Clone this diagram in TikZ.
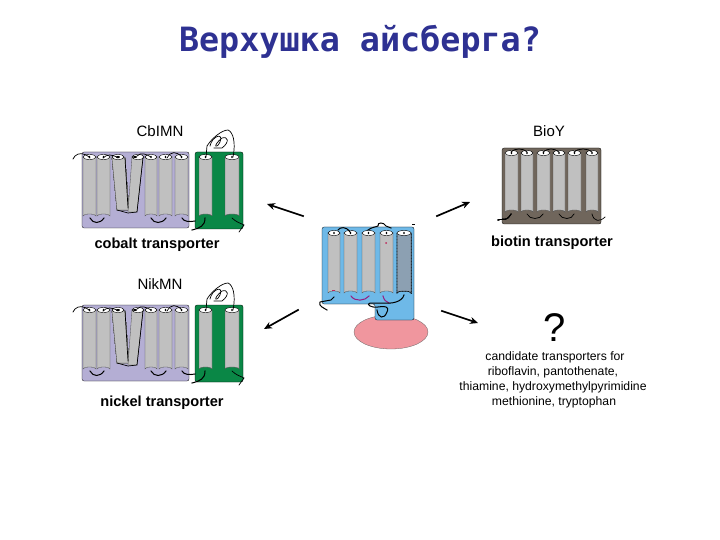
\documentclass[tikz,border=0pt]{standalone}
\usepackage{fontspec}
\setmainfont{Liberation Sans}
\newfontfamily\titlefont{DejaVu Sans Mono}
\definecolor{custcol_title}{RGB}{46, 49, 146}
\definecolor{custcol_purple}{RGB}{180, 174, 212}
\definecolor{custcol_green}{RGB}{10, 135, 70}
\definecolor{custcol_brown}{RGB}{112, 102, 92}
\definecolor{custcol_blue}{RGB}{110, 185, 232}
\definecolor{custcol_pink}{RGB}{240, 150, 158}
\definecolor{custcol_tube}{RGB}{192, 192, 192}
\definecolor{custcol_dark}{RGB}{140, 160, 178}
\definecolor{custcol_loop}{RGB}{150, 30, 130}
\definecolor{custcol_mark}{RGB}{190, 40, 90}
\usetikzlibrary{arrows.meta}
\tikzset{
	membrane/.style={rounded corners=2pt, draw=black, line width=0.3pt},
	wire/.style={line width=0.7pt, black},
	thickwire/.style={line width=1.0pt, black},
	bigarrow/.style={line width=1.7pt, black, -{Stealth[length=8pt,width=7pt]}},
	caption/.style={inner sep=0, outer sep=0, font=\fontsize{14.6pt}{14.6pt}\bfseries\selectfont},
	protein/.style={inner sep=0, outer sep=0, font=\fontsize{15pt}{15pt}\selectfont},
	smalltext/.style={inner sep=0, outer sep=0, font=\fontsize{12.2pt}{12.2pt}\selectfont},
}
% one helix: x left, x right, y top, y bottom
\newcommand{\helix}[5][custcol_tube]{
	\fill [#1, draw=black!70, line width=0.3pt] (#2,#4) -- (#2,#5-2) arc (180:360:{(#3-#2)/2} and 2) -- (#3,#4) -- cycle;
	\fill [white, draw=black, line width=0.4pt] ({(#2+#3)/2},#4) ellipse ({(#3-#2)/2} and 2.5);
	\fill [black] ({(#2+#3)/2},#4) ellipse (0.9 and 1.3);
}
% the ecf transporter, drawn for both cobalt and nickel
\newcommand{\ecfbox}[1]{
	\begin{scope}[yshift=#1]
		\draw [membrane, fill=custcol_purple] (82,152) rectangle (189,228);
		\draw [membrane, fill=custcol_green] (195,152) rectangle (243,229);
		\foreach \xa/\xb in {83/96, 97/110, 145/157, 159/172, 175/188, 199/212, 225/239}
			\helix{\xa}{\xb}{157}{218}
		% slanted pair in the middle
		\fill [custcol_tube, draw=black!70, line width=0.3pt] (112,158) -- (125,158) -- (129,210) -- (117,210) -- cycle;
		\fill [custcol_tube, draw=black!70, line width=0.3pt] (132,157) -- (143,157) -- (137,212) -- (128,212) -- cycle;
		\fill [white, draw=black, line width=0.4pt] (118,157) ellipse (6 and 2.5);
		\fill [white, draw=black, line width=0.4pt] (138,157) ellipse (6 and 2.5);
		\fill [black] (118,157) ellipse (2 and 1);
		\fill [black] (135,157) ellipse (2 and 1);
		\draw [thickwire] (90,218) .. controls (93,224) and (100,224) .. (104,218);
		\draw [thickwire] (151,218) .. controls (154,224) and (162,224) .. (166,218);
		\draw [thickwire] (182,218) .. controls (184,222) and (190,222) .. (195,221);
		\draw [wire] (117,210) -- (128,213) -- (137,212) -- (143,158);
		\draw [wire] (125,158) -- (128,208);
		\draw [wire] (73,159) -- (75,156) .. controls (78,153) and (84,152) .. (90,158);
		\draw [wire] (103,158) .. controls (107,154) and (112,154) .. (118,158);
		\draw [wire] (137,156) .. controls (141,152) and (146,154) .. (151,157);
		\draw [wire] (167,158) .. controls (171,151) and (176,151) .. (182,157);
		\draw [wire] (206,157) -- (207,146) .. controls (212,138) and (222,130) .. (228,130) .. controls (233,132) and (236,142) .. (233,157);
		\draw [wire] (210,146) .. controls (212,136) and (224,132) .. (220,142) .. controls (216,150) and (212,146) .. (222,138) .. controls (228,136) and (230,142) .. (222,148) -- (214,148);
		\draw [thickwire] (205,218) .. controls (205,226) and (200,228) .. (192,230);
		\draw [wire] (232,218) .. controls (236,222) and (240,223) .. (244,225) -- (239,232);
	\end{scope}
}
\begin{document}
\begin{tikzpicture}[x=1pt,y=-1pt,line cap=rect]
	\useasboundingbox (0,0) rectangle (720,540);
	\node[inner sep=0, outer sep=0, custcol_title, font=\titlefont\fontsize{33.4pt}{33.4pt}\bfseries\selectfont] (title) at (360,42) {Верхушка айсберга?};
	% left transporters
	\ecfbox{0pt}
	\ecfbox{-153pt}
	\node[protein] (cbimn) at (160,131) {CbIMN};
	\node[caption] (cobalt) at (157,245) {cobalt transporter};
	\node[protein] (nikmn) at (160,284) {NikMN};
	\node[caption] (nickel) at (162,403) {nickel transporter};
	% biotin transporter
	\draw [membrane, fill=custcol_brown] (502,148) rectangle (601,224);
	\foreach \xa/\xb in {505/518, 521/533, 537/550, 553/565, 568/581, 586/598}
		\helix{\xa}{\xb}{153}{214}
	\draw [wire] (498,220) .. controls (505,218) and (506,222) .. (511,214);
	\draw [wire] (527,214) .. controls (530,220) and (540,220) .. (543,214);
	\draw [wire] (559,214) .. controls (562,220) and (572,220) .. (574,214);
	\draw [wire] (592,214) .. controls (594,222) and (600,222) .. (605,217);
	\draw [wire] (511,152) .. controls (514,148) and (524,148) .. (527,152);
	\draw [wire] (543,152) .. controls (548,148) and (554,148) .. (559,152);
	\draw [wire] (574,152) .. controls (578,148) and (588,148) .. (592,152);
	\node[protein] (bioy) at (549,131) {BioY};
	\node[caption] (biotin) at (552,243) {biotin transporter};
	% centre
	\fill [custcol_pink, draw=black!60, line width=0.3pt] (391,332) ellipse (37 and 17);
	\draw [membrane, fill=custcol_blue] (322,227) -- (414,227) -- (414,320) -- (375,320) -- (375,304) -- (322,304) -- cycle;
	\foreach \xa/\xb in {328/340, 344/357, 362/375, 380/393}
		\helix{\xa}{\xb}{233}{295}
	\fill [custcol_dark, draw=black, densely dotted, line width=0.5pt] (397,233) -- (397,293) arc (180:360:7 and 2) -- (411,233) -- cycle;
	\fill [white, draw=black, line width=0.4pt] (404,233) ellipse (7 and 2.5);
	\fill [black] (404,233) ellipse (0.9 and 1.3);
	\draw [custcol_loop, line width=1pt] (351,296) .. controls (355,302) and (365,301) .. (369,296);
	\draw [custcol_loop, line width=1pt] (383,296) .. controls (384,300) and (386,302) .. (389,303);
	\fill [custcol_mark] (332,290) rectangle (335,291);
	\fill [custcol_mark] (386,243) circle (1);
	\fill [black] (412,224) rectangle (415,225);
	\draw [thickwire] (334,297) -- (331,300) -- (320,302) .. controls (318,306) and (324,308) .. (327,310);
	\draw [thickwire] (404,295) .. controls (402,302) and (392,304) .. (382,303) -- (370,303) .. controls (366,304) and (370,308) .. (378,307) .. controls (384,306) and (390,306) .. (387,312) .. controls (384,320) and (378,318) .. (377,310);
	\draw [thickwire] (338,230) .. controls (340,227) and (346,226) .. (350,232);
	\draw [thickwire] (368,230) .. controls (372,227) and (376,227) .. (378,226) .. controls (377,222) and (384,222) .. (386,226) -- (391,228);
	% arrows
	\coordinate (centerul) at (303,216);
	\coordinate (centerur) at (437,216);
	\coordinate (centerll) at (298,310);
	\coordinate (centerlr) at (442,311);
	\coordinate (tocobalt) at (267,204);
	\coordinate (tobiotin) at (470,202);
	\coordinate (tonickel) at (264,329);
	\coordinate (tounknown) at (478,323);
	\draw [bigarrow] (centerul) -- (tocobalt);
	\draw [bigarrow] (centerur) -- (tobiotin);
	\draw [bigarrow] (centerll) -- (tonickel);
	\draw [bigarrow] (centerlr) -- (tounknown);
	% unknown substrates
	\node[inner sep=0, outer sep=0, font=\fontsize{40pt}{40pt}\selectfont] (unknown) at (555,328) {?};
	\node[smalltext] (cand_a) at (555,357) {candidate transporters for};
	\node[smalltext] (cand_b) at (553,372) {riboflavin, pantothenate,};
	\node[smalltext] (cand_c) at (553,387) {thiamine, hydroxymethylpyrimidine};
	\node[smalltext] (cand_d) at (554,402) {methionine, tryptophan};
\end{tikzpicture}
\end{document}
